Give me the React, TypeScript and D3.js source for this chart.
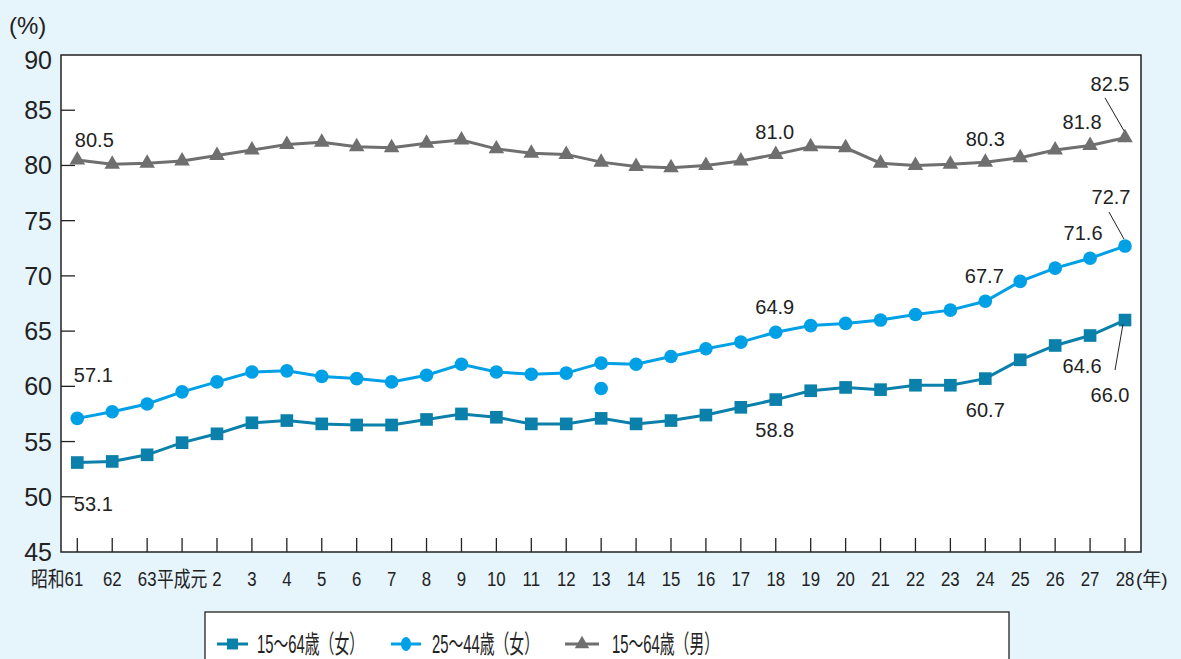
import { useEffect } from "react";
import * as d3 from "d3";

// 年次（昭和61年〜平成28年）
const years = [
  "61", "62", "63", "元", "2", "3", "4", "5", "6", "7", "8", "9", "10",
  "11", "12", "13", "14", "15", "16", "17", "18", "19", "20", "21", "22",
  "23", "24", "25", "26", "27", "28",
];
const yearLabels = [
  "昭和61", "62", "63", "平成元", "2", "3", "4", "5", "6", "7", "8", "9", "10",
  "11", "12", "13", "14", "15", "16", "17", "18", "19", "20", "21", "22",
  "23", "24", "25", "26", "27", "28",
];

// 15～64歳（女）
const women1564 = [
  53.1, 53.2, 53.8, 54.9, 55.7, 56.7, 56.9, 56.6, 56.5, 56.5, 57.0, 57.5, 57.2,
  56.6, 56.6, 57.1, 56.6, 56.9, 57.4, 58.1, 58.8, 59.6, 59.9, 59.7, 60.1,
  60.1, 60.7, 62.4, 63.7, 64.6, 66.0,
];
// 25～44歳（女）
const women2544 = [
  57.1, 57.7, 58.4, 59.5, 60.4, 61.3, 61.4, 60.9, 60.7, 60.4, 61.0, 62.0, 61.3,
  61.1, 61.2, 62.1, 62.0, 62.7, 63.4, 64.0, 64.9, 65.5, 65.7, 66.0, 66.5,
  66.9, 67.7, 69.5, 70.7, 71.6, 72.7,
];
// 平成13年の別系列の値（25～44歳女）
const women2544Extra: [string, number][] = [["13", 59.8]];
// 15～64歳（男）
const men1564 = [
  80.5, 80.1, 80.2, 80.4, 80.9, 81.4, 81.9, 82.1, 81.7, 81.6, 82.0, 82.3, 81.5,
  81.1, 81.0, 80.3, 79.9, 79.8, 80.0, 80.4, 81.0, 81.7, 81.6, 80.2, 80.0,
  80.1, 80.3, 80.7, 81.4, 81.8, 82.5,
];
const yTicks = [45, 50, 55, 60, 65, 70, 75, 80, 85, 90];

const legendItems = ["15～64歳（女）", "25～44歳（女）", "15～64歳（男）"];

const C1 = "#0a80aa";
const C2 = "#00a0e6";
const C3 = "#6f6f6f";
const BG = "#e6f4fc";
const FONT = "'Liberation Sans', 'Noto Sans CJK JP', sans-serif";

export default function App() {
  useEffect(() => {
    document.body.style.margin = "0";
  }, []);

  const width = 1181;
  const height = 659;
  const frame = { left: 61, right: 1141, top: 55, bottom: 552 };

  const x = d3.scalePoint<string>().domain(years).range([77.3, 1125]);
  const y = d3.scaleLinear().domain([45, 90]).range([552, 55]);

  const lineGen = d3
    .line<number>()
    .x((_, i) => x(years[i])!)
    .y((d) => y(d));

  const sq = d3.symbol(d3.symbolSquare, 160)()!;
  const tri = d3.symbol(d3.symbolTriangle, 105)()!;

  // value label: [series values, index, dx, dy]
  const labels: [number[], number, number, number][] = [
    [men1564, 0, 17, -13],
    [men1564, 20, -1, -15],
    [men1564, 26, 0, -16],
    [men1564, 29, -8, -17],
    [women2544, 0, 16, -36],
    [women2544, 20, -1, -18],
    [women2544, 26, -1, -18],
    [women2544, 29, -7, -18],
    [women1564, 0, 16, 48],
    [women1564, 20, -1, 37],
    [women1564, 26, 0, 38],
    [women1564, 29, -8, 37],
  ];
  // last-point labels with leader lines: [series, text dx, text dy, line x1, y1, x2, y2]
  const leaders: [number[], number, number, number, number, number, number][] = [
    [men1564, -15, -47, -20, -40, -1, -7],
    [women2544, -14, -42, -16, -34, -1, -7],
    [women1564, -15, 82, -10, 50, -2, 4],
  ];

  const last = years.length - 1;

  return (
    <svg width={width} height={height} style={{ display: "block", fontFamily: FONT }}>
      <rect x={0} y={0} width={width} height={height} fill={BG} />
      <rect
        x={frame.left}
        y={frame.top}
        width={frame.right - frame.left}
        height={frame.bottom - frame.top}
        fill="#fff"
        stroke="#222"
        strokeWidth={1.5}
      />

      {/* y axis */}
      <text x={9} y={34} fontSize={24} fill="#222">(%)</text>
      {yTicks.map((t) => (
        <g key={t}>
          {t > 45 && t < 90 && (
            <line x1={frame.left} x2={frame.left + 14} y1={y(t)} y2={y(t)} stroke="#222" strokeWidth={1.3} />
          )}
          <text x={52} y={t === 90 ? y(t) + 5 : y(t)} dy="0.36em" textAnchor="end" fontSize={25} fill="#222">
            {t}
          </text>
        </g>
      ))}

      {/* x axis */}
      {years.map((yr, i) => {
        const tx = i === 0 ? x(yr)! + 6 : x(yr)!;
        return (
          <g key={yr}>
            <line x1={x(yr)} x2={x(yr)} y1={frame.bottom} y2={frame.bottom - 14} stroke="#222" strokeWidth={1.3} />
            <text
              x={tx}
              y={586}
              textAnchor={i === 0 ? "end" : "middle"}
              fontSize={21}
              fill="#222"
              transform={`translate(${tx * 0.2},0) scale(0.8,1)`}
            >
              {yearLabels[i]}
            </text>
          </g>
        );
      })}
      <text x={1136} y={586} fontSize={19} fill="#222">
        (年)
      </text>

      {/* series lines */}
      <path d={lineGen(men1564)!} fill="none" stroke={C3} strokeWidth={3} />
      <path d={lineGen(women2544)!} fill="none" stroke={C2} strokeWidth={3} />
      <path d={lineGen(women1564)!} fill="none" stroke={C1} strokeWidth={3} />

      {/* markers */}
      {men1564.map((v, i) => (
        <path key={"m" + i} d={tri} transform={`translate(${x(years[i])},${y(v)})`} fill={C3} />
      ))}
      {women2544.map((v, i) => (
        <circle key={"w2" + i} cx={x(years[i])} cy={y(v)} r={6.8} fill={C2} />
      ))}
      {women2544Extra.map(([yr, v]) => (
        <circle key={"ex" + yr} cx={x(yr)} cy={y(v)} r={6.8} fill={C2} />
      ))}
      {women1564.map((v, i) => (
        <path key={"w1" + i} d={sq} transform={`translate(${x(years[i])},${y(v)})`} fill={C1} />
      ))}

      {/* value labels */}
      {labels.map(([s, i, dx, dy], k) => (
        <text
          key={"l" + k}
          x={x(years[i])! + dx}
          y={y(s[i]) + dy}
          textAnchor="middle"
          fontSize={20}
          fill="#222"
        >
          {s[i].toFixed(1)}
        </text>
      ))}
      {leaders.map(([s, dx, dy, lx1, ly1, lx2, ly2], k) => {
        const px = x(years[last])!;
        const py = y(s[last]);
        return (
          <g key={"ld" + k}>
            <line x1={px + lx1} y1={py + ly1} x2={px + lx2} y2={py + ly2} stroke="#222" strokeWidth={1} />
            <text x={px + dx} y={py + dy} textAnchor="middle" fontSize={20} fill="#222">
              {s[last].toFixed(1)}
            </text>
          </g>
        );
      })}

      {/* legend */}
      <rect x={205} y={612} width={804} height={60} fill="#fff" stroke="#222" strokeWidth={1.3} />
      {legendItems.map((name, k) => {
        const lx = [217, 391, 565][k];
        const lw = [31, 30, 34][k];
        const tx = [257, 432, 612][k];
        const col = [C1, C2, C3][k];
        const cx = lx + lw / 2;
        return (
          <g key={name}>
            <line x1={lx} x2={lx + lw} y1={644} y2={644} stroke={col} strokeWidth={3} />
            {k === 0 && <path d={d3.symbol(d3.symbolSquare, 120)()!} transform={`translate(${cx},644)`} fill={col} />}
            {k === 1 && <ellipse cx={cx} cy={644} rx={5} ry={7} fill={col} />}
            {k === 2 && <path d={d3.symbol(d3.symbolTriangle, 90)()!} transform={`translate(${cx},644)`} fill={col} />}
            <text
              x={tx}
              y={653}
              fontSize={25}
              fill="#222"
              textLength={107}
              lengthAdjust="spacingAndGlyphs"
            >
              {name}
            </text>
          </g>
        );
      })}
    </svg>
  );
}
